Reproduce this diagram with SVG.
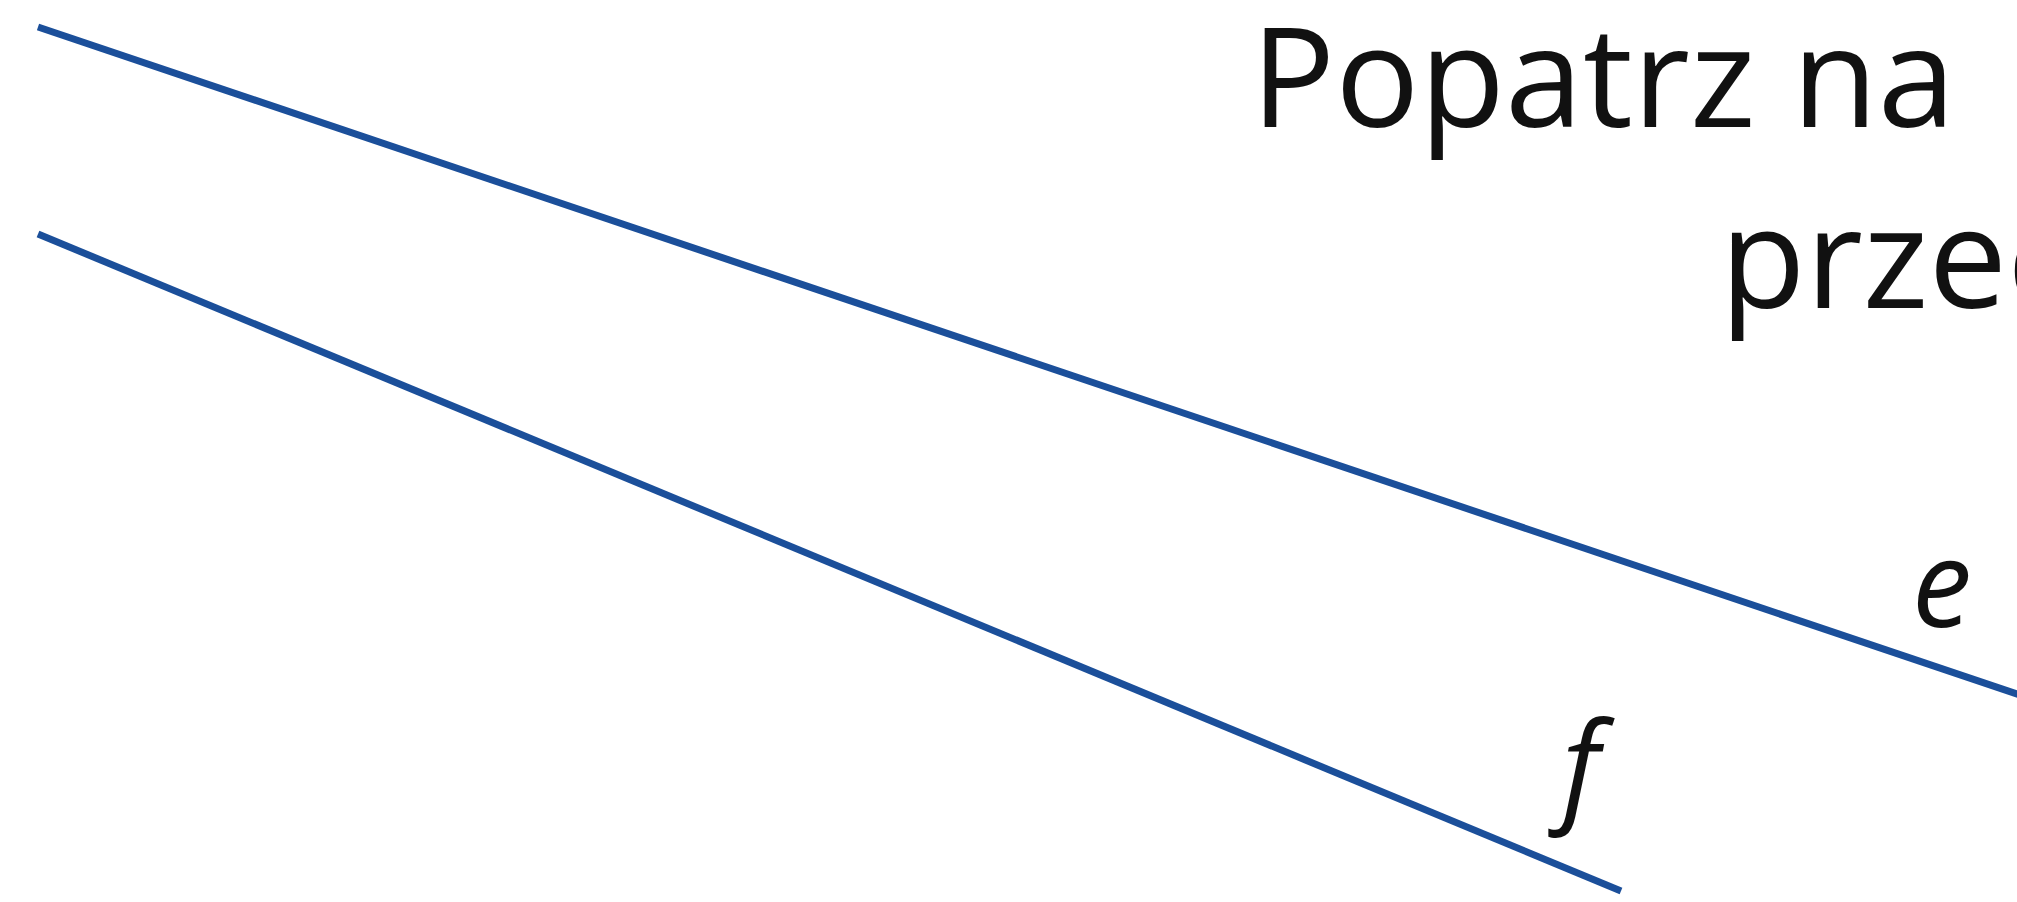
<svg xmlns="http://www.w3.org/2000/svg" width="2017" height="902" viewBox="0 0 2017 902">
<style>
.ln{stroke:#1b4f9a;stroke-width:7;fill:none;stroke-linecap:butt}
.title{font-family:"Open Sans","Noto Sans",sans-serif;font-size:140px;fill:#111}
.lbl{font-family:"Open Sans","Noto Sans",sans-serif;font-style:italic;font-size:120px;fill:#111}
</style>
<rect width="2017" height="902" fill="#ffffff"/>
<g id="connectors">
<line id="line-e" class="ln" x1="38" y1="27" x2="2020" y2="695"/>
<line id="line-f" class="ln" x1="38" y1="234" x2="1621" y2="891"/>
</g>
<g id="title">
<text class="title" x="1251" y="127">Popatrz na</text>
<text class="title" x="1720" y="308">przec</text>
</g>
<g id="label-e"><text class="lbl" x="1912" y="627">e</text></g>
<g id="label-f"><text class="lbl" x="1562" y="809">f</text></g>
</svg>
